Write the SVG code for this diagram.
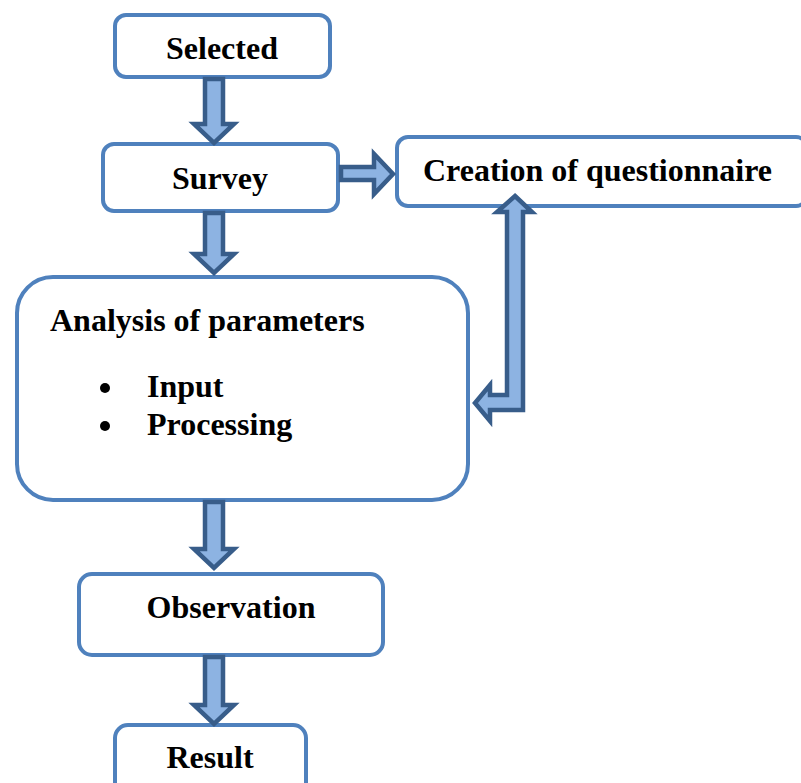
<svg xmlns="http://www.w3.org/2000/svg" width="801" height="783" viewBox="0 0 801 783">
<style>
.box{fill:#fff;stroke:#4F81BD;stroke-width:4}
.t{font-family:"Liberation Serif","Times New Roman",serif;font-weight:bold;font-size:32px;fill:#000}
.arr{fill:#8DB3E2;stroke:#385D8A;stroke-width:4.5;stroke-linejoin:miter}
</style>
<rect width="801" height="783" fill="#fff"/>
<g id="selected"><rect class="box" x="115" y="15" width="215" height="62" rx="11"/><text class="t" x="222" y="59" text-anchor="middle">Selected</text></g>
<g id="survey"><rect class="box" x="103" y="144" width="235" height="67" rx="11"/><text class="t" x="220" y="189" text-anchor="middle">Survey</text></g>
<g id="creation"><rect class="box" x="397" y="137" width="410" height="69" rx="11"/><text class="t" x="423" y="181">Creation of questionnaire</text></g>
<g id="analysis"><rect class="box" x="17" y="277" width="451" height="223" rx="36"/>
<text class="t" x="50" y="331">Analysis of parameters</text>
<circle cx="105" cy="388" r="5"/><text class="t" x="147" y="397">Input</text>
<circle cx="105" cy="426" r="5"/><text class="t" x="147" y="435">Processing</text></g>
<g id="observation"><rect class="box" x="79" y="574" width="304" height="81" rx="13"/><text class="t" x="231" y="618" text-anchor="middle">Observation</text></g>
<g id="result"><rect class="box" x="115" y="725" width="191" height="80" rx="13"/><text class="t" x="210" y="768" text-anchor="middle">Result</text></g>
<g id="connectors">
<polygon class="arr" points="205,79 223,79 223,124 234,124 214,143 194,124 205,124"/>
<polygon class="arr" points="205,213 223,213 223,254 234,254 214,273 194,254 205,254"/>
<polygon class="arr" points="205,502 223,502 223,549 234,549 214,568 194,549 205,549"/>
<polygon class="arr" points="205,657 223,657 223,705 234,705 214,724 194,705 205,705"/>
<polygon class="arr" points="341,167 374,167 374,154 393,174 374,194 374,180 341,180"/>
<polygon class="arr" points="515,196 532,212 523,212 523,410 490,410 490,421 475,403 490,385 490,395 507,395 507,212 497,212"/>
</g>
</svg>
